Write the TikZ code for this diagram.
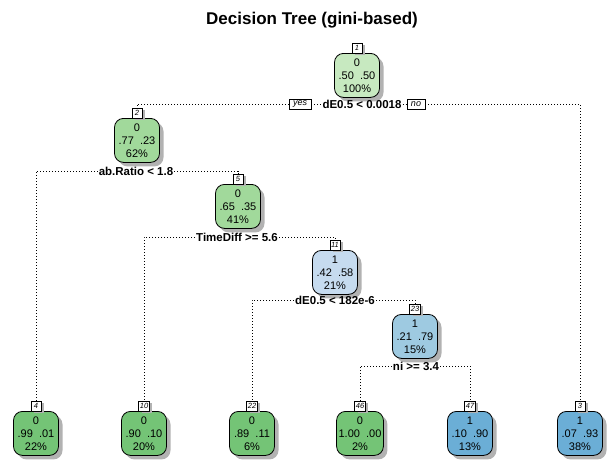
\documentclass[tikz,border=0pt]{standalone}
\usepackage{fontspec}
\setmainfont{Liberation Sans}
\usepackage{tikz}
\usetikzlibrary{shadows}

\definecolor{gnLight}{HTML}{C7E9C0}
\definecolor{gnMid}{HTML}{A1D99B}
\definecolor{gnDark}{HTML}{74C476}
\definecolor{buLight}{HTML}{C6DBEF}
\definecolor{buMid}{HTML}{9ECAE1}
\definecolor{buDark}{HTML}{6BAED6}

\begin{document}
\begin{tikzpicture}[x=1pt, y=-1pt,
    treebox/.style={draw=black, line width=0.8pt, rounded corners=9pt, minimum width=45pt,
        minimum height=44pt, inner sep=2pt, align=center, anchor=north,
        font=\fontsize{11}{13}\selectfont,
        drop shadow={shadow xshift=4pt, shadow yshift=-4pt, fill=black!30, opacity=1}},
    tag/.style={draw=black, fill=white, line width=0.5pt, inner sep=1.2pt, minimum width=10pt,
        minimum height=9.5pt, anchor=south, font=\fontsize{7.5}{8}\itshape\selectfont,
        drop shadow={shadow xshift=3pt, shadow yshift=-2pt, fill=black!30, opacity=1}},
    split/.style={font=\bfseries\fontsize{11.5}{12}\selectfont, inner sep=1pt},
    yesno/.style={draw=black, fill=white, line width=0.5pt, inner xsep=4pt, inner ysep=0.5pt,
        minimum height=9.5pt, font=\fontsize{9}{10}\itshape\selectfont},
    branch/.style={line width=0.8pt, dash pattern=on 0.8pt off 2.2pt}]

    \useasboundingbox (0,0) rectangle (613,472);
    \node[font=\bfseries\fontsize{17}{20}\selectfont] (title) at (312,20) {Decision Tree (gini-based)};

    % inner nodes
    \node[treebox, fill=gnLight] (n1) at (357,53) {0\\.50~~.50\\100\%};
    \node[tag] (t1) at (n1.north) {1};
    \node[split] (s1) at (362,104) {dE0.5 < 0.0018};
    \node[yesno] (yes1) at (300,104) {yes};
    \node[yesno] (no1) at (416,104) {no};

    \node[treebox, fill=gnMid] (n2) at (137,118) {0\\.77~~.23\\62\%};
    \node[tag] (t2) at (n2.north) {2};
    \node[split] (s2) at (136,171) {ab.Ratio < 1.8};

    \node[treebox, fill=gnMid] (n5) at (238,184) {0\\.65~~.35\\41\%};
    \node[tag] (t5) at (n5.north) {5};
    \node[split] (s5) at (237,237) {TimeDiff >= 5.6};

    \node[treebox, fill=buLight] (n11) at (335,250) {1\\.42~~.58\\21\%};
    \node[tag] (t11) at (n11.north) {11};
    \node[split] (s11) at (335,300) {dE0.5 < 182e-6};

    \node[treebox, fill=buMid] (n23) at (415,314) {1\\.21~~.79\\15\%};
    \node[tag] (t23) at (n23.north) {23};
    \node[split] (s23) at (416,366) {ni >= 3.4};

    % leaves
    \node[treebox, fill=gnDark] (n4) at (36,411) {0\\.99~~.01\\22\%};
    \node[tag] (t4) at (n4.north) {4};
    \node[treebox, fill=gnDark] (n10) at (144,411) {0\\.90~~.10\\20\%};
    \node[tag] (t10) at (n10.north) {10};
    \node[treebox, fill=gnDark] (n22) at (252,411) {0\\.89~~.11\\6\%};
    \node[tag] (t22) at (n22.north) {22};
    \node[treebox, fill=gnDark] (n46) at (360,411) {0\\1.00~~.00\\2\%};
    \node[tag] (t46) at (n46.north) {46};
    \node[treebox, fill=buDark] (n47) at (470,411) {1\\.10~~.90\\13\%};
    \node[tag] (t47) at (n47.north) {47};
    \node[treebox, fill=buDark] (n3) at (580,411) {1\\.07~~.93\\38\%};
    \node[tag] (t3) at (n3.north) {3};

    % branches
    \draw[branch] (yes1.west) -| (t2.north);
    \draw[branch] (yes1.east) -- (s1.west);
    \draw[branch] (s1.east) -- (no1.west);
    \draw[branch] (no1.east) -| (t3.north);
    \draw[branch] (s2.west) -| (t4.north);
    \draw[branch] (s2.east) -| (t5.north);
    \draw[branch] (s5.west) -| (t10.north);
    \draw[branch] (s5.east) -| (t11.north);
    \draw[branch] (s11.west) -| (t22.north);
    \draw[branch] (s11.east) -| (t23.north);
    \draw[branch] (s23.west) -| (t46.north);
    \draw[branch] (s23.east) -| (t47.north);
\end{tikzpicture}
\end{document}
